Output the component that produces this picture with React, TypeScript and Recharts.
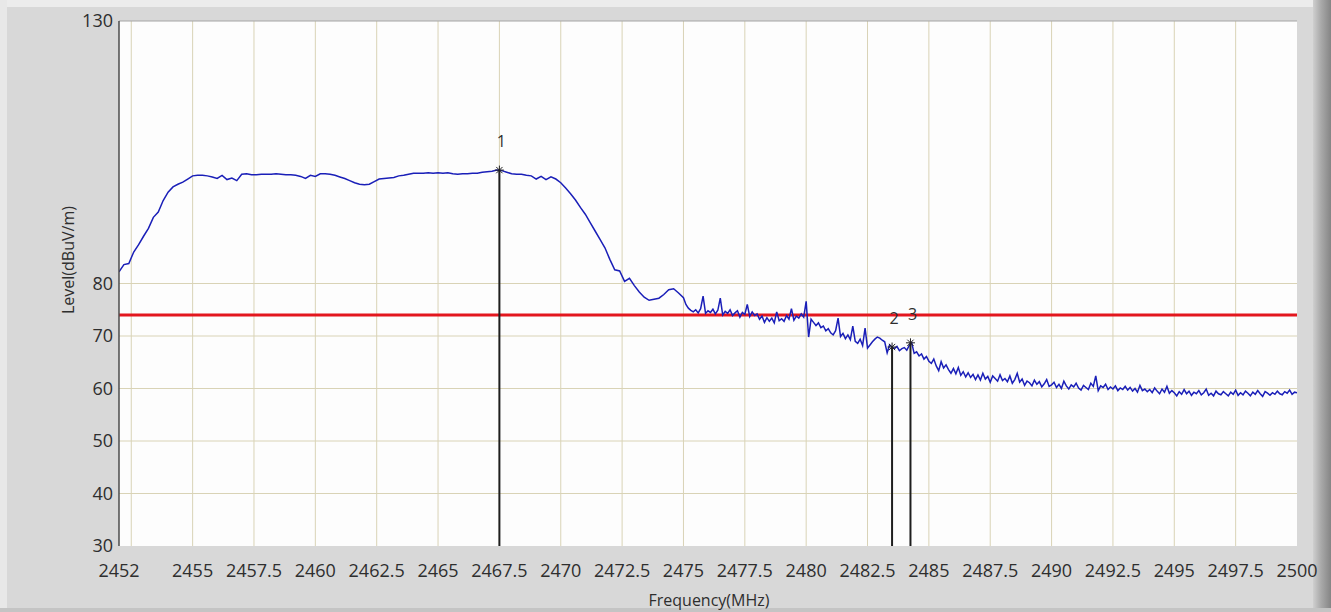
import React from 'react';
import { ComposedChart, Line, XAxis, YAxis, ReferenceLine, ReferenceDot } from 'recharts';

// Frequency axis (MHz)
const xTicks = [2452, 2455, 2457.5, 2460, 2462.5, 2465, 2467.5, 2470, 2472.5, 2475, 2477.5, 2480, 2482.5, 2485, 2487.5, 2490, 2492.5, 2495, 2497.5, 2500];
const gridX = [2452.5, 2455, 2457.5, 2460, 2462.5, 2465, 2467.5, 2470, 2472.5, 2475, 2477.5, 2480, 2482.5, 2485, 2487.5, 2490, 2492.5, 2495, 2497.5];
// Level axis (dBuV/m)
const yTicks = [30, 40, 50, 60, 70, 80, 130];
const gridY = [40, 50, 60, 70, 80];

const limitLevel = 74;

// Trace part A: 2452.0 .. 2475.0 MHz, 0.2 MHz step
const startA = 2452.0;
const stepA = 0.2;
const levelsA = [
  82.2, 83.6, 83.8, 86.0, 87.4,
  89.0, 90.5, 92.6, 93.6, 95.8,
  97.4, 98.4, 98.9, 99.3, 99.9,
  100.5, 100.6, 100.6, 100.5, 100.3,
  100.0, 100.6, 99.8, 100.1, 99.6,
  100.8, 100.9, 100.7, 100.7, 100.8,
  100.8, 100.8, 100.9, 100.8, 100.7,
  100.7, 100.6, 100.4, 100.0, 100.6,
  100.4, 100.9, 100.9, 100.8, 100.6,
  100.3, 100.0, 99.6, 99.2, 98.9,
  98.8, 98.9, 99.4, 99.9, 100.0,
  100.1, 100.2, 100.5, 100.6, 100.8,
  101.0, 101.0, 101.0, 101.1, 101.0,
  101.1, 101.0, 101.1, 100.9, 100.8,
  100.9, 100.9, 101.0, 101.0, 101.2,
  101.3, 101.4, 101.6, 101.5, 101.2,
  100.9, 100.8, 100.8, 100.6, 100.5,
  99.9, 100.4, 99.8, 100.3, 99.9,
  99.2, 98.2, 97.1, 95.9, 94.5,
  93.2, 91.6, 90.0, 88.4, 86.8,
  84.6, 82.6, 82.4, 80.4, 81.0,
  79.6, 78.4, 77.4, 76.8, 77.0,
  77.2, 77.9, 78.8, 79.0, 78.2,
  77.3,
];

// Trace part B: 2475.1 .. 2500.0 MHz, 0.1 MHz step
const startB = 2475.1;
const stepB = 0.1;
const levelsB = [
  76.0, 75.3, 74.9, 74.6, 75.0, 74.4, 75.2, 77.6, 74.3, 74.8,
  74.5, 75.1, 74.2, 74.9, 77.2, 74.0, 74.7, 74.3, 75.0, 73.9,
  74.4, 74.8, 73.6, 74.5, 74.1, 76.0, 73.7, 74.6, 73.9, 74.2,
  73.2, 73.8, 72.6, 73.5, 72.8, 73.4, 72.5, 74.6, 72.9, 73.3,
  72.8, 73.9, 73.2, 75.2, 73.0, 73.8, 73.4, 74.2, 73.6, 76.6,
  69.8, 73.2, 72.6, 72.0, 72.5, 71.6, 71.9, 71.0, 71.4, 70.6,
  70.2, 71.0, 73.4, 69.9, 70.5, 69.5, 70.2, 69.3, 71.9, 69.0,
  68.6, 69.4, 68.2, 71.5, 67.7, 68.3, 68.9, 69.4, 69.8, 69.6,
  69.2, 68.9, 66.8, 68.3, 67.9, 67.6, 68.0, 67.2, 67.6, 67.8,
  67.3, 68.2, 68.7, 66.7, 67.0, 66.2, 66.6, 65.6, 66.1, 65.2,
  64.8, 65.6, 64.3, 63.4, 65.1, 63.9, 64.5, 63.6, 62.9, 63.8,
  62.8, 64.0, 62.5, 63.2, 62.2, 63.0, 62.1, 62.7, 61.7, 62.6,
  61.6, 62.9, 61.8, 62.3, 61.2, 62.4, 61.9, 61.4, 62.6, 61.5,
  61.9, 61.3, 62.4, 61.0, 61.7, 62.9, 61.2, 61.8, 60.6, 61.4,
  61.1, 60.5, 61.6, 60.8, 61.3, 60.3, 60.9, 61.7, 60.4, 60.7,
  61.2, 60.2, 60.8, 60.0, 61.4, 60.5, 59.9, 60.7, 60.3, 61.0,
  60.1, 59.7, 60.6, 60.2, 59.8, 61.0, 60.4, 62.4, 59.6, 60.5,
  60.2, 60.8, 59.8, 60.3, 59.9, 60.5, 59.6, 60.1, 59.8, 60.4,
  59.7, 60.2, 59.5, 60.0, 59.3, 60.6, 59.6, 59.9, 59.4, 59.8,
  59.2, 60.1, 59.5, 59.0, 59.9, 59.3, 60.4, 59.1, 59.6, 59.2,
  58.6, 59.4, 58.9, 59.8, 59.0, 59.5, 58.7, 59.3, 59.0, 59.6,
  58.8, 59.2, 59.9, 58.7, 59.1, 58.6, 59.5, 59.0, 58.8, 59.4,
  59.0, 58.6, 59.3, 58.9, 59.7, 58.7, 59.2, 58.8, 59.5, 59.1,
  58.6, 59.3, 58.9, 59.6, 59.0, 58.5, 59.4, 59.1, 58.7, 59.2,
  58.9, 59.5, 59.0, 58.8, 59.4, 59.1, 59.7, 58.9, 59.3, 59.2,
];

// Markers
const markerLabels = ['1', '2', '3'];
const markerFreqs = [2467.5, 2483.5, 2484.25];
const markerLevels = [101.6, 67.9, 68.7];

const data = [
  ...levelsA.map((v, i) => ({ f: +(startA + i * stepA).toFixed(2), level: v })),
  ...levelsB.map((v, i) => ({ f: +(startB + i * stepB).toFixed(2), level: v })),
];

const FONT = '"Open Sans", "DejaVu Sans", sans-serif';
const TEXT = '#2e2e2e';
const GRID = '#d9d3b6';

const makeMarkerShape = (label: string) => (props: any) => {
  const { cx, cy } = props;
  if (cx == null || cy == null) return <g />;
  const s = 4.5;
  return (
    <g>
      <line x1={cx - s} y1={cy} x2={cx + s} y2={cy} stroke="#222" strokeWidth={1} />
      <line x1={cx} y1={cy - s} x2={cx} y2={cy + s} stroke="#222" strokeWidth={1} />
      <line x1={cx - s * 0.7} y1={cy - s * 0.7} x2={cx + s * 0.7} y2={cy + s * 0.7} stroke="#222" strokeWidth={1} />
      <line x1={cx - s * 0.7} y1={cy + s * 0.7} x2={cx + s * 0.7} y2={cy - s * 0.7} stroke="#222" strokeWidth={1} />
      <text x={cx + 2} y={cy - 23} textAnchor="middle" fontFamily={FONT} fontSize={16} fill={TEXT}>
        {label}
      </text>
    </g>
  );
};

export default function App() {
  return (
    <div
      style={{
        position: 'absolute',
        left: 0,
        top: 0,
        width: 1331,
        height: 612,
        overflow: 'hidden',
        background: '#d8d8d8',
        fontFamily: FONT,
      }}
    >
      <div style={{ position: 'absolute', left: 0, top: 0, width: 1331, height: 7, background: '#ececec' }} />
      <div style={{ position: 'absolute', left: 0, top: 0, width: 7, height: 612, background: '#e8e8e8' }} />
      <div
        style={{
          position: 'absolute',
          right: 0,
          top: 0,
          width: 18,
          height: 612,
          background: 'linear-gradient(to right, #cfcfcf, #a9a9a9 45%, #858585)',
        }}
      />
      <div style={{ position: 'absolute', left: 0, bottom: 0, width: 1331, height: 4, background: '#c4c4c4' }} />
      <div style={{ position: 'absolute', left: 119, top: 21, width: 1178, height: 525, background: '#fdfdfd' }} />
      <div style={{ position: 'absolute', left: 0, top: 0 }}>
        <ComposedChart width={1331} height={612} data={data} margin={{ top: 21, right: 34, bottom: 0, left: 0 }}>
          <XAxis
            dataKey="f"
            type="number"
            domain={[2452, 2500]}
            ticks={xTicks}
            interval={0}
            allowDataOverflow
            axisLine={false}
            tickLine={false}
            tickSize={0}
            tickMargin={18}
            height={66}
            tick={{ fill: TEXT, fontSize: 18, fontFamily: FONT }}
            label={{
              content: () => (
                <text x={709} y={606} textAnchor="middle" fontFamily={FONT} fontSize={16} fill={TEXT}>
                  Frequency(MHz)
                </text>
              ),
            }}
          />
          <YAxis
            type="number"
            domain={[30, 130]}
            ticks={yTicks}
            interval={0}
            allowDataOverflow
            width={119}
            axisLine={{ stroke: '#4d4d4d', strokeWidth: 1.5 }}
            tickLine={false}
            tickSize={0}
            tickMargin={6}
            tick={{ fill: TEXT, fontSize: 18, fontFamily: FONT }}
            label={{
              content: () => (
                <text
                  x={68}
                  y={260}
                  transform="rotate(-90 68 260)"
                  textAnchor="middle"
                  dominantBaseline="central"
                  fontFamily={FONT}
                  fontSize={16}
                  fill={TEXT}
                >
                  Level(dBuV/m)
                </text>
              ),
            }}
          />
          {gridX.map((v) => (
            <ReferenceLine key={'gx' + v} x={v} stroke={GRID} strokeWidth={1} />
          ))}
          {gridY.map((v) => (
            <ReferenceLine key={'gy' + v} y={v} stroke={GRID} strokeWidth={1} />
          ))}
          <ReferenceLine y={130} stroke="#a5a5a5" strokeWidth={1} />
          <ReferenceLine y={limitLevel} stroke="#e3161e" strokeWidth={3} />
          <Line
            type="linear"
            dataKey="level"
            stroke="#1a1fb8"
            strokeWidth={1.5}
            dot={false}
            activeDot={false}
            isAnimationActive={false}
          />
          {markerFreqs.map((f, i) => (
            <ReferenceLine
              key={'ml' + i}
              segment={[
                { x: f, y: 30 },
                { x: f, y: markerLevels[i] },
              ]}
              stroke="#1e1e1e"
              strokeWidth={2}
            />
          ))}
          {markerFreqs.map((f, i) => (
            <ReferenceDot
              key={'md' + i}
              x={f}
              y={markerLevels[i]}
              r={5}
              shape={makeMarkerShape(markerLabels[i])}
            />
          ))}
        </ComposedChart>
      </div>
    </div>
  );
}
